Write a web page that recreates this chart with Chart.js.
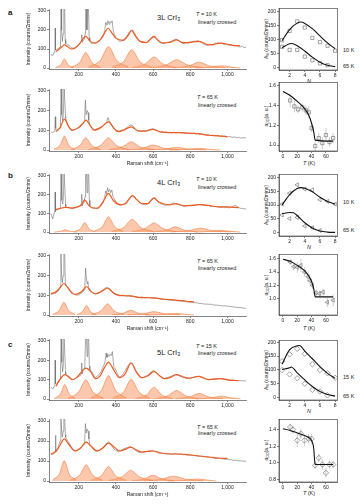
<!DOCTYPE html>
<html>
<head>
<meta charset="utf-8">
<script src="https://cdn.jsdelivr.net/npm/chart.js@4.4.0/dist/chart.umd.min.js"></script>
<style>
  body { margin: 0; background: #fff; }
  #fig { position: relative; width: 360px; height: 504px; overflow: hidden;
         font-family: "Liberation Sans", Arial, sans-serif; color: #222; }
  #fig canvas { position: absolute; }
  .t { position: absolute; white-space: nowrap; line-height: 1; transform: translateY(-50%); }
  .c { position: absolute; white-space: nowrap; line-height: 1; transform: translate(-50%, -50%); }
  .r { position: absolute; white-space: nowrap; line-height: 1; transform: translate(-50%, -50%) rotate(-90deg); font-size: 5px; }
  .let { font-size: 8px; font-weight: bold; }
  .nm { font-size: 7.5px; }
  .cond { font-size: 5.5px; }
  .sm { font-size: 5.5px; }
  sub { font-size: 70%; vertical-align: -1px; line-height: 0; }
</style>
</head>
<body>
<div id="fig">
  <div class="t let" style="left:8px;top:13px">a</div>
  <div class="t let" style="left:8px;top:176px">b</div>
  <div class="t let" style="left:8px;top:345px">c</div>

  <div class="t nm" style="left:157px;top:18px">3L CrI<sub>3</sub></div>
  <div class="t nm" style="left:157px;top:183px">4L CrI<sub>3</sub></div>
  <div class="t nm" style="left:157px;top:353px">5L CrI<sub>3</sub></div>

  <div class="t cond" style="left:196px;top:15px"><i>T</i> = 10 K</div>
  <div class="t cond" style="left:198px;top:23px">linearly crossed</div>
  <div class="t cond" style="left:197px;top:98px"><i>T</i> = 65 K</div>
  <div class="t cond" style="left:198px;top:106px">linearly crossed</div>
  <div class="t cond" style="left:196px;top:180px"><i>T</i> = 10 K</div>
  <div class="t cond" style="left:198px;top:188px">linearly crossed</div>
  <div class="t cond" style="left:197px;top:262px"><i>T</i> = 65 K</div>
  <div class="t cond" style="left:198px;top:269px">linearly crossed</div>
  <div class="t cond" style="left:196px;top:347px"><i>T</i> = 15 K</div>
  <div class="t cond" style="left:198px;top:354px">linearly crossed</div>
  <div class="t cond" style="left:197px;top:428px"><i>T</i> = 65 K</div>
  <div class="t cond" style="left:198px;top:434px">linearly crossed</div>

  <div class="t sm" style="left:343px;top:51px">10 K</div>
  <div class="t sm" style="left:343px;top:67px">65 K</div>
  <div class="t sm" style="left:343px;top:203px">10 K</div>
  <div class="t sm" style="left:343px;top:231px">65 K</div>
  <div class="t sm" style="left:343px;top:378px">15 K</div>
  <div class="t sm" style="left:343px;top:397px">65 K</div>

  <div class="r" style="left:266px;top:39px">A<sub>N</sub> (counts/2mins)</div>
  <div class="r" style="left:266px;top:205px">A<sub>N</sub> (counts/2mins)</div>
  <div class="r" style="left:266px;top:370px">A<sub>N</sub> (counts/2mins)</div>
  <div class="r" style="left:266px;top:116px">α<sub>DD</sub>(a. u.)</div>
  <div class="r" style="left:266px;top:285px">α<sub>DD</sub>(a. u.)</div>
  <div class="r" style="left:266px;top:450px">α<sub>DD</sub>(a. u.)</div>

  <div class="c sm" style="left:309px;top:82px"><i>N</i></div>
  <div class="c sm" style="left:309px;top:248px"><i>N</i></div>
  <div class="c sm" style="left:309px;top:412px"><i>N</i></div>
  <div class="c sm" style="left:309px;top:164px"><i>T</i> (K)</div>
  <div class="c sm" style="left:309px;top:329px"><i>T</i> (K)</div>
  <div class="c sm" style="left:309px;top:494px"><i>T</i> (K)</div>
</div>

<script>
/*********************************
 * DATA                          *
 *********************************/

// tick labels
const shiftTicks = [200, 400, 600, 800, 1000];
const intensityTicks = [0, 100, 200, 300];
const nTicks = [2, 4, 6, 8];
const ampTicks = [0, 50, 100, 150, 200];
const tempTicks = [0, 20, 40, 60];

// Raman shift grid (cm-1) for the measured spectra
const ramanGrid = [
  50, 60, 70, 80, 90, 100, 110, 120, 130, 140,
  150, 160, 170, 180, 190, 200, 210, 220, 230, 240,
  250, 260, 270, 280, 290, 300, 310, 320, 330, 340,
  350, 360, 370, 380, 390, 400, 410, 420, 430, 440,
  450, 460, 470, 480, 490, 500, 510, 520, 530, 540,
  550, 560, 570, 580, 590, 600, 610, 620, 630, 640,
  650, 660, 670, 680, 690, 700, 710, 720, 730, 740,
  750, 760, 770, 780, 790, 800, 810, 820, 830, 840,
  850, 860, 870, 880, 890, 900, 910, 920, 930, 940,
  950, 960, 970, 980, 990, 1000, 1010, 1020, 1030, 1040,
  1050, 1060, 1070, 1080, 1090, 1100
];

// measured counts on the grid (null = inside a sharp phonon line)
const rawA10 = [
  70, 66, 85, 96, 102, 110, null, null, 128, 122,
  118, 108, 104, 107, 115, 122, 135, 140, 150, null,
  null, 145, 128, 131, 133, 137, 142, 151, 165, 195,
  null, null, null, null, 180, 158, 149, 141, 143, 148,
  156, 170, 186, 197, 201, 185, 166, 150, 141, 135,
  139, 131, 141, 149, 159, 164, 162, 151, 140, 133,
  130, 127, 134, 135, 139, 141, 146, 151, 150, 142,
  136, 129, 128, 133, 129, 137, 137, 141, 141, 144,
  139, 136, 127, 123, 119, 125, 124, 121, 129, 130,
  134, 127, 131, 125, 123, 125, 119, 122, 117, 116,
  118, 112, 111, 114, 107, 110
];
const rawA65 = [
  93, 89, 96, 98, 106, 112, null, null, 162, 130,
  113, 101, 100, 104, 107, 112, 121, 129, 144, null,
  null, 126, 114, 107, 103, 109, 111, 117, 121, 133,
  140, null, 139, 124, 111, 101, 97, 97, 101, 102,
  109, 114, 123, 127, 125, 111, 103, 97, 96, 95,
  98, 96, 101, 104, 106, 108, 102, 99, 93, 92,
  94, 89, 92, 88, 90, 87, 91, 88, 88, 90,
  86, 89, 85, 87, 84, 86, 83, 86, 81, 84,
  79, 83, 78, 79, 75, 78, 73, 76, 72, 73,
  75, 69, 72, 68, 71, 66, 69, 66, 64, 67,
  62, 65, 61, 62, 63, 60
];
const rawB10 = [
  100, 70, 110, 118, 123, 125, null, null, 136, 131,
  130, 127, 126, 131, 133, 136, 139, 147, 160, null,
  null, 139, 131, 128, 126, 124, 131, 141, 154, 186,
  null, null, null, null, 181, 161, 153, 144, 143, 149,
  154, 166, 177, 191, 194, 189, 174, 166, 154, 151,
  147, 146, 151, 157, 171, 177, 181, 169, 161, 151,
  149, 144, 144, 146, 148, 151, 156, 151, 150, 145,
  143, 139, 138, 141, 142, 140, 144, 144, 146, 148,
  147, 145, 143, 142, 140, 142, 137, 138, 135, 136,
  134, 133, 131, 135, 130, 132, 129, 133, 135, 143,
  138, 131, 127, 126, 123, 125
];
const rawB65 = [
  105, 107, 109, 113, 121, null, null, null, 151, 142,
  131, 117, 109, 104, 100, 103, 108, 116, 127, null,
  null, 131, 118, 111, 107, 111, 113, 121, 128, 136,
  141, 137, 131, 118, 109, 102, 101, 97, 99, 101,
  97, 96, 98, 94, 96, 92, 93, 90, 90, 92,
  89, 87, 90, 86, 87, 86, 85, 83, 84, 81,
  82, 79, 80, 77, 77, 75, 76, 74, 73, 71,
  72, 69, 70, 66, 67, 64, 65, 62, 63, 60,
  59, 58, 57, 55, 56, 54, 55, 52, 51, 50,
  50, 48, 47, 46, 47, 44, 45, 42, 42, 40,
  39, 38, 38, 36, 35, 34
];
const rawC15 = [
  60, 52, 68, 76, 91, 104, null, null, 125, 119,
  116, 103, 100, 104, 110, 116, 122, 148, 160, null,
  null, 150, 143, 124, 111, 118, 128, 141, 164, 186,
  null, null, null, null, 163, 149, 126, 114, 119, 131,
  146, 164, 180, 188, 182, 160, 139, 124, 116, 110,
  113, 118, 121, 131, 139, 146, 143, 134, 126, 117,
  111, 105, 109, 111, 116, 118, 122, 127, 124, 120,
  116, 113, 110, 107, 108, 106, 110, 112, 115, 117,
  116, 112, 108, 104, 101, 100, 101, 103, 104, 106,
  107, 105, 104, 102, 100, 98, 99, 97, 98, 96,
  95, 96, 94, 95, 93, 94
];
const rawC65 = [
  135, 131, 141, 156, 170, null, null, null, 218, 201,
  187, 171, 157, 150, 153, 158, 166, 175, 186, null,
  null, 184, 171, 157, 151, 150, 153, 160, 168, 178,
  189, 196, 187, 172, 160, 152, 148, 151, 155, 160,
  164, 166, 171, 169, 165, 157, 151, 145, 142, 142,
  145, 146, 149, 150, 152, 150, 147, 145, 141, 140,
  138, 137, 139, 135, 136, 134, 135, 137, 134, 133,
  134, 131, 133, 130, 131, 129, 130, 128, 126, 125,
  124, 123, 121, 122, 119, 120, 117, 117, 115, 115,
  113, 114, 111, 110, 108, 109, 106, 107, 104, 104,
  103, 101, 101, 100, 99, 99
];

// sharp phonon lines, [shift, counts, ...]
const linesA10 = [72, 90, 73.5, 210, 75, 95, 102, 120, 105, 330, 108, 200, 112, 140, 116, 180, 120, 330, 124, 330, 127, 150,
  213, 140, 216, 175, 219, 135, 234, 180, 237, 330, 241, 330, 244, 200, 248, 330, 252, 330, 256, 160,
  345, 240, 352, 225, 357, 248, 363, 230, 368, 245, 374, 238, 380, 248, 385, 200];
const linesA65 = [72, 120, 74, 169, 76, 110, 102, 140, 105, 320, 109, 180, 114, 150, 118, 200, 121, 330, 125, 330, 129, 170,
  232, 160, 236, 253, 240, 180, 246, 200, 250, 190, 254, 150, 352, 150, 358, 165, 363, 150];
const linesB10 = [71, 115, 73, 214, 75, 110, 102, 140, 105, 330, 109, 170, 114, 150, 118, 190, 121, 330, 125, 330, 129, 150,
  213, 140, 216, 202, 219, 140, 234, 190, 237, 330, 241, 330, 245, 210, 249, 330, 253, 330, 257, 170,
  345, 220, 350, 205, 355, 237, 360, 215, 366, 228, 372, 210, 378, 225, 384, 190];
const linesB65 = [100, 140, 104, 330, 108, 200, 112, 165, 116, 200, 120, 330, 124, 330, 128, 160,
  233, 150, 237, 238, 241, 190, 245, 160, 249, 170, 253, 140];
const linesC15 = [71, 75, 73, 201, 75, 80, 102, 120, 105, 330, 109, 190, 113, 140, 117, 170, 121, 330, 125, 330, 129, 140,
  213, 130, 216, 186, 219, 130, 233, 180, 237, 330, 241, 330, 245, 220, 249, 330, 253, 330, 257, 170,
  343, 200, 347, 237, 352, 215, 358, 230, 364, 220, 370, 232, 376, 225, 381, 245, 386, 190];
const linesC65 = [73, 150, 75, 228, 77, 150, 100, 200, 104, 330, 108, 250, 112, 220, 116, 250, 120, 330, 124, 330, 128, 230,
  232, 200, 236, 287, 240, 240, 245, 260, 250, 250, 255, 210];

// total fit, [shift, counts, ...]
const fitA10 = [78, 87, 95, 100, 110, 112, 123, 122, 140, 112, 162, 100, 185, 108, 210, 135, 238, 166, 262, 140, 288, 131,
  315, 148, 340, 185, 358, 209, 378, 185, 400, 157, 440, 145, 465, 170, 484, 197, 505, 168, 530, 140, 566, 134,
  590, 155, 605, 166, 625, 148, 650, 132, 688, 134, 726, 148, 760, 133, 800, 135, 848, 140, 897, 122, 930, 125,
  965, 131, 1000, 125, 1032, 119, 1068, 117];
const fitA65 = [78, 93, 100, 115, 123, 157, 145, 120, 165, 101, 200, 115, 222, 135, 240, 152, 258, 130, 282, 101, 320, 115,
  345, 135, 362, 143, 385, 115, 412, 93, 445, 102, 482, 118, 520, 97, 560, 96, 600, 105, 640, 92, 700, 88,
  750, 88, 800, 85, 850, 82, 900, 75, 950, 72, 1000, 68];
const fitB10 = [78, 121, 100, 126, 128, 132, 160, 128, 200, 136, 218, 152, 232, 172, 248, 150, 270, 130, 300, 128, 330, 160,
  360, 207, 385, 170, 420, 147, 450, 150, 470, 175, 488, 195, 510, 175, 540, 152, 570, 152, 605, 182, 630, 160,
  660, 150, 690, 145, 720, 152, 770, 140, 820, 143, 860, 147, 900, 142, 950, 135, 1000, 134, 1060, 130];
const fitB65 = [50, 108, 80, 120, 100, 140, 120, 160, 140, 140, 165, 110, 185, 105, 215, 118, 242, 145, 265, 120, 290, 108,
  320, 118, 355, 136, 390, 110, 420, 100, 480, 97, 520, 90, 560, 88, 605, 87, 660, 80, 720, 76, 780, 70, 820, 67];
const fitC15 = [78, 66, 95, 95, 110, 115, 125, 126, 145, 115, 165, 100, 190, 112, 215, 140, 240, 160, 265, 140, 290, 105,
  315, 120, 340, 165, 360, 191, 380, 165, 420, 110, 450, 130, 482, 186, 510, 140, 540, 110, 575, 122, 605, 143,
  635, 120, 660, 105, 695, 112, 727, 126, 760, 115, 790, 108, 848, 117, 900, 100, 968, 105, 1010, 98, 1060, 95];
const fitC65 = [50, 135, 80, 150, 100, 180, 122, 211, 145, 185, 180, 150, 210, 165, 240, 194, 265, 175, 300, 150, 330, 165,
  360, 189, 390, 170, 420, 150, 450, 158, 480, 169, 510, 155, 540, 145, 570, 148, 600, 150, 640, 140, 700, 135,
  750, 135, 800, 130, 850, 125, 900, 120, 950, 115, 1000, 113];

// single-mode components, one [shift, counts, ...] list per mode
const modesA10 = [
  [75, 2, 105, 19, 116, 39, 123, 47, 130, 39, 141, 19, 171, 2],
  [158, 3, 208, 33, 226, 67, 238, 82, 250, 67, 268, 33, 318, 3],
  [252, 5, 320, 45, 344, 93, 360, 113, 376, 93, 400, 45, 468, 5],
  [377, 4, 445, 38, 469, 79, 485, 96, 501, 79, 525, 38, 593, 4],
  [485, 2, 560, 23, 587, 48, 605, 58, 623, 48, 650, 23, 725, 2],
  [587, 2, 675, 18, 706, 36, 727, 44, 748, 36, 780, 18, 867, 2],
  [708, 1, 795, 12, 827, 25, 848, 31, 869, 25, 900, 12, 988, 1],
  [828, 0, 915, 5, 947, 10, 968, 12, 989, 10, 1020, 5, 1070, 0]
];
const modesA65 = [
  [67, 3, 102, 28, 115, 58, 123, 71, 131, 58, 144, 28, 179, 3],
  [158, 2, 208, 25, 226, 51, 238, 62, 250, 51, 268, 25, 318, 2],
  [252, 2, 320, 25, 344, 51, 360, 62, 376, 51, 400, 25, 468, 2],
  [362, 2, 437, 17, 464, 34, 482, 42, 500, 34, 527, 17, 602, 2],
  [460, 1, 548, 10, 579, 21, 600, 25, 621, 21, 653, 10, 740, 1],
  [567, 1, 667, 5, 703, 11, 727, 13, 751, 11, 787, 5, 887, 1],
  [688, 0, 788, 3, 824, 7, 848, 8, 872, 7, 908, 3, 960, 0]
];
const modesB10 = [
  [68, 0, 106, 5, 119, 10, 128, 12, 137, 10, 151, 5, 188, 0],
  [176, 2, 211, 20, 224, 42, 232, 51, 240, 42, 253, 20, 288, 2],
  [280, 3, 330, 33, 348, 67, 360, 82, 372, 67, 390, 33, 440, 3],
  [376, 3, 446, 27, 471, 56, 488, 68, 505, 56, 530, 27, 600, 3],
  [485, 2, 560, 20, 587, 40, 605, 49, 623, 40, 650, 20, 725, 2],
  [600, 1, 675, 11, 702, 23, 720, 28, 738, 23, 765, 11, 840, 1],
  [695, 1, 795, 8, 831, 17, 855, 21, 879, 17, 915, 8, 1015, 1],
  [825, 0, 912, 4, 944, 7, 965, 9, 986, 7, 1018, 4, 1070, 0]
];
const modesB65 = [
  [60, 3, 97, 26, 111, 53, 120, 65, 129, 53, 143, 26, 180, 3],
  [190, 2, 222, 19, 234, 39, 242, 48, 250, 39, 262, 19, 294, 2],
  [267, 2, 322, 23, 342, 47, 355, 57, 368, 47, 388, 23, 443, 2],
  [380, 1, 442, 10, 465, 20, 480, 24, 495, 20, 517, 10, 580, 1],
  [465, 1, 552, 7, 584, 14, 605, 17, 626, 14, 658, 7, 745, 1],
  [560, 0, 660, 3, 696, 7, 720, 8, 744, 7, 780, 3, 820, 0]
];
const modesC15 = [
  [69, 3, 104, 30, 117, 62, 125, 75, 133, 62, 146, 30, 181, 3],
  [142, 4, 202, 40, 224, 82, 238, 100, 252, 82, 274, 40, 334, 4],
  [264, 5, 324, 48, 346, 99, 360, 121, 374, 99, 396, 48, 456, 5],
  [382, 4, 445, 41, 467, 84, 482, 102, 497, 84, 520, 41, 582, 4],
  [505, 2, 568, 24, 590, 50, 605, 61, 620, 50, 643, 24, 705, 2],
  [607, 2, 682, 18, 709, 36, 727, 44, 745, 36, 772, 18, 847, 2],
  [720, 1, 800, 12, 829, 24, 848, 29, 867, 24, 896, 12, 976, 1],
  [828, 1, 915, 6, 947, 12, 968, 15, 989, 12, 1020, 6, 1070, 1]
];
const modesC65 = [
  [58, 4, 98, 40, 112, 83, 122, 101, 132, 83, 146, 40, 186, 4],
  [152, 3, 207, 32, 227, 66, 240, 81, 253, 66, 273, 32, 328, 3],
  [264, 3, 324, 29, 346, 59, 360, 72, 374, 59, 396, 29, 456, 3],
  [360, 2, 435, 22, 462, 44, 480, 54, 498, 44, 525, 22, 600, 2],
  [488, 1, 558, 12, 583, 24, 600, 29, 617, 24, 642, 12, 712, 1],
  [550, 1, 650, 10, 686, 20, 710, 24, 734, 20, 770, 10, 870, 1],
  [680, 0, 780, 4, 816, 8, 840, 10, 864, 8, 900, 4, 940, 0]
];

// mode amplitudes vs mode index N
const modeN = [1, 2, 3, 4, 5, 6, 7, 8];
const ampA10 = [97, 130, 164, 142, 105, 90, 77, 59];
const ampA65 = [73, 62, 62, 38, 25, 14, 7];
const ampB10 = [103, 143, 173, 158, 155, 119, 113, 103];
const ampB65 = [64, 51, 55, 24, 18, 8];
const ampC15 = [131, 156, 176, 158, 120, 99, 87, 71];
const ampC65 = [99, 83, 69, 49, 27, 21, 7];

// model curves for the amplitudes, [N, A, ...]
const ampFitA10 = [1, 95, 2, 135, 3, 158, 3.5, 162, 4, 157, 5, 138, 6, 112, 7, 87, 8, 66];
const ampFitA65 = [1, 70, 2, 84, 2.3, 85, 3, 77, 4, 58, 5, 36, 6, 18, 7, 7, 8, 2];
const ampFitB10 = [1, 100, 2, 138, 3, 160, 3.5, 163, 4, 161, 5, 148, 6, 128, 7, 113, 8, 103];
const ampFitB65 = [1, 68, 2, 73, 2.5, 72, 3, 62, 4, 36, 5, 17, 6, 6, 7, 2, 8, 1];
const ampFitC15 = [1, 120, 2, 173, 3, 187, 3.3, 188, 4, 168, 5, 140, 6, 111, 7, 87, 8, 69];
const ampFitC65 = [1, 101, 2, 107, 2.2, 110, 3, 89, 4, 63, 5, 39, 6, 21, 7, 10, 8, 4];

// alpha_DD vs temperature
const tempA = [10, 16, 21, 27, 32, 36, 40, 45, 50, 55, 60, 65, 70];
const alphaA = [1.45, 1.39, 1.36, 1.38, 1.35, 1.33, 1.17, 0.99, 1.07, 1.02, 1.10, 1.03, 1.07];
const errA = [0.07, 0.06, 0.04, 0.04, 0.05, 0.06, 0.04, 0.05, 0.05, 0.06, 0.07, 0.05, 0.05];
const tempB = [10, 15, 20, 25, 30, 35, 38, 41, 46, 51, 56, 62, 70];
const alphaB = [1.55, 1.48, 1.47, 1.50, 1.40, 1.33, 1.27, 1.20, 1.09, 1.08, 1.10, 0.95, 0.98];
const errB = [0.05, 0.06, 0.08, 0.10, 0.07, 0.08, 0.07, 0.06, 0.05, 0.04, 0.05, 0.07, 0.09];
const tempC = [10, 14, 20, 25, 30, 36, 40, 45, 50, 55, 60, 65, 70];
const alphaC = [1.43, 1.40, 1.27, 1.35, 1.27, 1.29, 1.29, 0.97, 1.06, 0.98, 0.88, 0.98, 0.98];
const errC = [0.04, 0.05, 0.08, 0.06, 0.07, 0.06, 0.06, 0.04, 0.05, 0.06, 0.06, 0.05, 0.04];

const alphaFitA = [0, 1.54, 10, 1.50, 20, 1.44, 30, 1.37, 36, 1.30, 40, 1.22, 43, 1.13, 45, 1.05, 70, 1.04];
const alphaFitB = [0, 1.59, 10, 1.56, 20, 1.50, 30, 1.42, 36, 1.34, 40, 1.26, 43, 1.15, 45, 1.03, 70, 1.03];
const alphaFitC = [0, 1.41, 10, 1.39, 20, 1.36, 30, 1.33, 38, 1.29, 41, 1.25, 43, 1.17, 44, 1.05, 45, 0.98, 70, 0.98];

/*********************************
 * HELPERS                       *
 *********************************/

const fig = document.getElementById('fig');
const fontFamily = '"Liberation Sans", Arial, sans-serif';
const tickFont = { family: fontFamily, size: 5 };
const inkColor = '#222';

function pairs(flat) {
  const out = [];
  for (let i = 0; i < flat.length; i += 2) out.push({ x: flat[i], y: flat[i + 1] });
  return out;
}

function measured(raw, lines) {
  const pts = [];
  ramanGrid.forEach((x, i) => { if (raw[i] !== null) pts.push({ x, y: raw[i] }); });
  return pts.concat(pairs(lines)).sort((a, b) => a.x - b.x);
}

function axis(min, max, ticks, extra) {
  return Object.assign({
    type: 'linear', min, max,
    afterBuildTicks: s => { s.ticks = ticks.map(v => ({ value: v })); },
    grid: { drawOnChartArea: false, tickLength: 2, color: '#333', lineWidth: 0.6 },
    border: { color: '#333', width: 0.6 },
    ticks: { font: tickFont, color: inkColor, padding: 1, maxRotation: 0, autoSkip: false }
  }, extra || {});
}

// draws a closed box round the plot area
const frame = {
  id: 'frame',
  afterDatasetsDraw(chart) {
    const { ctx, chartArea: a } = chart;
    ctx.save();
    ctx.strokeStyle = '#333';
    ctx.lineWidth = 0.6;
    ctx.strokeRect(a.left, a.top, a.right - a.left, a.bottom - a.top);
    ctx.restore();
  }
};

// box = plot area on the page, pad = room for axes round it
function panel(box, pad, xAxis, yAxis, datasets, framed) {
  const cv = document.createElement('canvas');
  const w = pad.l + box.w + pad.r, h = pad.t + box.h + pad.b;
  cv.width = w; cv.height = h;
  cv.style.width = w + 'px'; cv.style.height = h + 'px';
  cv.style.left = (box.x - pad.l) + 'px'; cv.style.top = (box.y - pad.t) + 'px';
  fig.appendChild(cv);
  xAxis.afterFit = s => { s.height = pad.b; };
  yAxis.afterFit = s => { s.width = pad.l; };
  return new Chart(cv, {
    type: 'scatter',
    data: { datasets },
    options: {
      responsive: false,
      animation: false,
      devicePixelRatio: 1,
      layout: { padding: { top: pad.t, right: pad.r, left: 0, bottom: 0 } },
      scales: { x: xAxis, y: yAxis },
      plugins: { legend: { display: false }, tooltip: { enabled: false } }
    },
    plugins: framed ? [frame] : []
  });
}

/*********************************
 * SPECTRA                       *
 *********************************/

function spectrum(top, height, withTitle, modes, raw, lines, fit) {
  const sets = [
    { data: pairs(fit), showLine: true, pointRadius: 0, borderColor: '#f05a1e', borderWidth: 1.2,
      cubicInterpolationMode: 'monotone', order: 0 },
    { data: measured(raw, lines), showLine: true, pointRadius: 0, borderColor: '#6e6e6e', borderWidth: 0.6,
      order: 1 }
  ];
  modes.forEach(m => sets.push({
    data: pairs(m), showLine: true, pointRadius: 0, fill: 'origin',
    borderColor: '#f37a3a', borderWidth: 0.6, backgroundColor: 'rgba(247,155,105,0.55)',
    cubicInterpolationMode: 'monotone', order: 2
  }));
  const xAxis = axis(40, 1100, shiftTicks, {
    title: { display: withTitle, text: 'Raman shift (cm⁻¹)', font: tickFont, color: inkColor, padding: { top: 0, bottom: 1 } }
  });
  const yAxis = axis(-5, 310, intensityTicks, {
    title: { display: true, text: 'Intensity (counts/2mins)', font: tickFont, color: inkColor, padding: { top: 1, bottom: 0 } }
  });
  panel({ x: 49, y: top, w: 197, h: height }, { l: 24, r: 6, t: 4, b: withTitle ? 17 : 9 }, xAxis, yAxis, sets, false);
}

spectrum(9, 60, false, modesA10, rawA10, linesA10, fitA10);
spectrum(89, 62, true, modesA65, rawA65, linesA65, fitA65);
spectrum(174, 59, false, modesB10, rawB10, linesB10, fitB10);
spectrum(254, 62, true, modesB65, rawB65, linesB65, fitB65);
spectrum(339, 61, false, modesC15, rawC15, linesC15, fitC15);
spectrum(419, 63, true, modesC65, rawC65, linesC65, fitC65);

/*********************************
 * AMPLITUDES AND ALPHA          *
 *********************************/

const rightPad = { l: 14, r: 3, t: 4, b: 9 };

function markerSet(xs, ys, style, rotation) {
  return {
    data: ys.map((y, i) => ({ x: xs[i], y })), showLine: false,
    pointStyle: style, pointRotation: rotation || 0, pointRadius: style === 'rectRot' ? 2.7 : 2.3,
    borderColor: '#666', borderWidth: 0.6, backgroundColor: 'rgba(0,0,0,0)', order: 1
  };
}

function curveSet(flat) {
  return { data: pairs(flat), showLine: true, pointRadius: 0, borderColor: '#111', borderWidth: 1.1,
    cubicInterpolationMode: 'monotone', order: 0 };
}

function errorSet(xs, ys, es) {
  const data = [];
  ys.forEach((y, i) => { data.push({ x: xs[i], y: y - es[i] }, { x: xs[i], y: y + es[i] }, { x: xs[i], y: null }); });
  return { data, showLine: true, spanGaps: false, pointRadius: 0, borderColor: '#aaa', borderWidth: 0.6, order: 2 };
}

function ampPanel(top, height, yMin, yMax, hot, cold, fitHot, fitCold, style, rotation) {
  panel({ x: 279, y: top, w: 60, h: height }, rightPad,
    axis(0.6, 8.3, nTicks), axis(yMin, yMax, ampTicks),
    [curveSet(fitHot), curveSet(fitCold),
     markerSet(modeN, hot, style, rotation), markerSet(modeN, cold, style, rotation)], true);
}

function alphaPanel(top, height, yMin, yMax, yTicks, temps, alpha, err, fit, style, rotation) {
  const yAxis = axis(yMin, yMax, yTicks);
  yAxis.ticks.callback = v => v.toFixed(1);
  panel({ x: 279, y: top, w: 60, h: height }, rightPad,
    axis(-5.5, 76, tempTicks), yAxis,
    [curveSet(fit), markerSet(temps, alpha, style, rotation), errorSet(temps, alpha, err)], true);
}

ampPanel(8, 62, -10, 210, ampA10, ampA65, ampFitA10, ampFitA65, 'rect', 0);
alphaPanel(82, 69, 0.94, 1.63, [1.0, 1.2, 1.4, 1.6], tempA, alphaA, errA, alphaFitA, 'rect', 0);
ampPanel(174, 62, -12, 210, ampB10, ampB65, ampFitB10, ampFitB65, 'triangle', -90);
alphaPanel(254, 61, 0.76, 1.66, [1.0, 1.2, 1.4, 1.6], tempB, alphaB, errB, alphaFitB, 'triangle', -90);
ampPanel(340, 60, -10, 206, ampC15, ampC65, ampFitC15, ampFitC65, 'rectRot', 0);
alphaPanel(419, 63, 0.77, 1.52, [0.8, 1.0, 1.2, 1.4], tempC, alphaC, errC, alphaFitC, 'rectRot', 0);
</script>
</body>
</html>
